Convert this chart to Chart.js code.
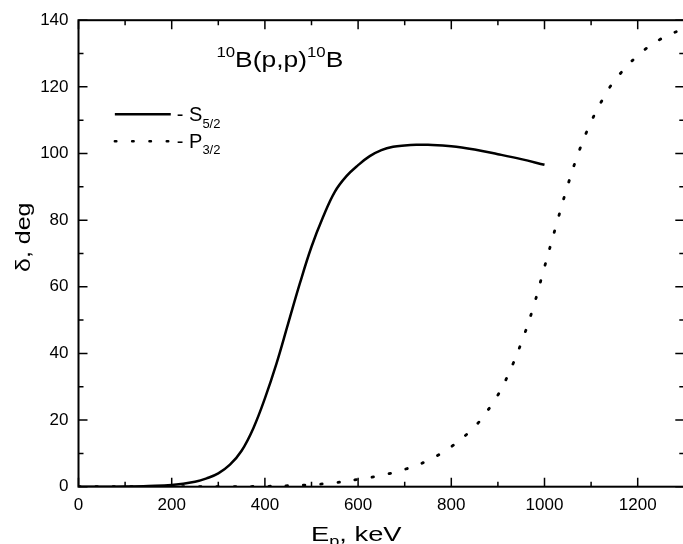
<!DOCTYPE html>
<html>
<head>
<meta charset="utf-8">
<script src="https://cdn.jsdelivr.net/npm/chart.js@4"></script>
<style>
  html, body { margin:0; padding:0; background:#fff; overflow:hidden; }
  #wrap { width:690px; height:544px; position:relative; }
</style>
</head>
<body>
<div id="wrap"><canvas id="phase"></canvas></div>
<script>
// phase shifts for 10B(p,p)10B
const energyS = [0,50,100,150,200,250,275,300,325,350,375,400,425,450,475,500,525,550,575,600,625,650,675,700,725,750,800,850,900,950,1000];
const deltaS  = [0,0,0.05,0.2,0.5,1.5,2.5,4,6.6,10.8,17.5,26.5,37,49,61,72,81,88.5,93.2,96.5,99.2,101,102,102.4,102.6,102.6,102.2,101.2,99.8,98.3,96.6];

const energyP = [0,100,200,300,400,450,500,550,600,650,700,750,800,850,875,900,925,950,975,1000,1025,1050,1075,1100,1125,1150,1200,1250,1290];
const deltaP  = [0,0,0,0,0.1,0.3,0.6,1.2,2.2,3.4,5.2,7.9,12,18,22.3,27.5,34.5,43.1,53.4,65.9,78.4,90.5,101,109.5,116.3,121.8,129.4,134.4,137];

const xTicks = [0,200,400,600,800,1000,1200];
const yTicks = [0,20,40,60,80,100,120,140];

const FONT = '"Liberation Sans", Arial, sans-serif';
const DOTS = [1.5, 15.8];

function pts(xs, ys){ return xs.map((x,i) => ({x:x, y:ys[i]})); }

// draws text pieces one after another (super/subscripts via dy), optionally widened
function runs(ctx, x, y, parts, sx){
  sx = sx || 1;
  ctx.save();
  ctx.translate(x, y);
  ctx.scale(sx, 1);
  let cx = 0;
  parts.forEach(p => {
    ctx.font = p.size + 'px ' + FONT;
    ctx.fillText(p.t, cx, p.dy || 0);
    cx += ctx.measureText(p.t).width;
  });
  ctx.restore();
}

const frame = {
  id:'frame',
  afterDraw(chart){
    const ctx = chart.ctx, a = chart.chartArea;
    const xs = chart.scales.x, ys = chart.scales.y;
    ctx.save();
    ctx.strokeStyle = '#000';
    ctx.fillStyle = '#000';
    ctx.lineWidth = 2;
    ctx.strokeRect(a.left, a.top, a.right - a.left, a.bottom - a.top);
    // inward ticks on all four sides
    ctx.lineWidth = 1.5;
    ctx.beginPath();
    for(let v = 0; v <= 1300; v += 100){
      const p = xs.getPixelForValue(v), L = v % 200 === 0 ? 9 : 5;
      ctx.moveTo(p, a.bottom); ctx.lineTo(p, a.bottom - L);
      ctx.moveTo(p, a.top); ctx.lineTo(p, a.top + L);
    }
    for(let v = 0; v <= 140; v += 10){
      const p = ys.getPixelForValue(v), L = v % 20 === 0 ? 9 : 5;
      ctx.moveTo(a.left, p); ctx.lineTo(a.left + L, p);
      ctx.moveTo(a.right, p); ctx.lineTo(a.right - L, p);
    }
    ctx.stroke();

    ctx.textBaseline = 'alphabetic';
    ctx.textAlign = 'left';
    // reaction label
    runs(ctx, xs.getPixelForValue(296), ys.getPixelForValue(126), [
      {t:'10', size:14, dy:-10}, {t:'B(p,p)', size:22}, {t:'10', size:14, dy:-10}, {t:'B', size:22}
    ], 1.2);

    // legend
    const lx0 = xs.getPixelForValue(78), lx1 = xs.getPixelForValue(198);
    const yS = ys.getPixelForValue(111.8), yP = ys.getPixelForValue(103.7);
    ctx.lineWidth = 2.5;
    ctx.beginPath(); ctx.moveTo(lx0, yS); ctx.lineTo(lx1, yS); ctx.stroke();
    ctx.setLineDash(DOTS); ctx.lineCap = 'round';
    ctx.beginPath(); ctx.moveTo(lx0, yP); ctx.lineTo(lx1 - 2, yP); ctx.stroke();
    ctx.setLineDash([]); ctx.lineCap = 'butt';
    const tx = xs.getPixelForValue(211);
    runs(ctx, tx, ys.getPixelForValue(109.8), [{t:'- S', size:20}, {t:'5/2', size:13, dy:7}]);
    runs(ctx, tx, ys.getPixelForValue(101.5), [{t:'- P', size:20}, {t:'3/2', size:13, dy:6}]);

    // axis titles
    runs(ctx, 311, 541, [{t:'E', size:21}, {t:'p', size:14, dy:5}, {t:', keV', size:21}], 1.3);
    ctx.translate(30, 236);
    ctx.rotate(-Math.PI/2);
    runs(ctx, -36, 0, [{t:'δ, deg', size:20}], 1.25);
    ctx.restore();
  }
};

new Chart(document.getElementById('phase').getContext('2d'), {
  type:'line',
  data:{ datasets:[
    { label:'S5/2', data:pts(energyS, deltaS), borderColor:'#000', borderWidth:2.5,
      pointRadius:0, tension:0.4, fill:false },
    { label:'P3/2', data:pts(energyP, deltaP), borderColor:'#000', borderWidth:2.8,
      borderDash:DOTS, borderCapStyle:'round',
      pointRadius:0, tension:0.4, fill:false }
  ]},
  options:{
    responsive:true, maintainAspectRatio:false, animation:false,
    layout:{ padding:{ left:0, top:19, right:5.7, bottom:0 } },
    plugins:{ legend:{ display:false }, tooltip:{ enabled:false } },
    scales:{
      x:{ type:'linear', min:0, max:1300,
        afterBuildTicks(s){ s.ticks = xTicks.map(v => ({value:v})); },
        afterFit(s){ s.height = 57.3; },
        grid:{ display:false, drawTicks:false }, border:{ display:false },
        ticks:{ color:'#000', padding:8, maxRotation:0, font:{ family:FONT, size:17 },
                callback:v => String(v) } },
      y:{ type:'linear', min:0, max:140,
        afterBuildTicks(s){ s.ticks = yTicks.map(v => ({value:v})); },
        afterFit(s){ s.width = 78.5; },
        grid:{ display:false, drawTicks:false }, border:{ display:false },
        ticks:{ color:'#000', padding:10, font:{ family:FONT, size:17 },
                callback:v => String(v) } }
    }
  },
  plugins:[frame]
});
</script>
</body>
</html>
